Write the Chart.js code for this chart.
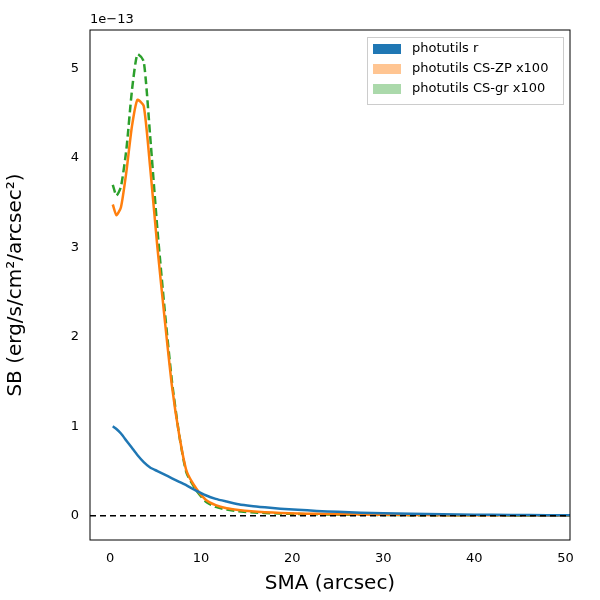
<!DOCTYPE html><html><head><script src="https://cdn.jsdelivr.net/npm/chart.js@4"></script>
<style>body{margin:0;background:#fff}</style></head><body><canvas id="c" width="600" height="600" style="width:600px;height:600px"></canvas>
<script>
const sma=[0.3,0.7,1.2,1.8,2.4,3.0,3.7,4.4,5.2,6.0,6.8,7.6,8.4,9.5,10.5,11.6,12.8,14.1,15.5,17,18.7,20.6,22.7,25,27.5,30,33,36.5,40,44,48,50.5];
const photR=[1.0,0.97,0.92,0.84,0.76,0.68,0.6,0.54,0.5,0.46,0.42,0.38,0.34,0.28,0.23,0.19,0.16,0.13,0.11,0.095,0.08,0.068,0.055,0.045,0.035,0.028,0.022,0.017,0.013,0.01,0.008,0.007];
const csZP=[3.48,3.36,3.45,3.85,4.35,4.65,4.58,3.9,3.0,2.2,1.45,0.9,0.5,0.3,0.18,0.12,0.085,0.065,0.05,0.04,0.033,0.027,0.022,0.018,0.015,0.012,0.01,0.008,0.007,0.006,0.005,0.005];
const csGR=[3.7,3.58,3.68,4.1,4.75,5.16,5.08,4.25,3.2,2.3,1.5,0.9,0.48,0.28,0.16,0.1,0.07,0.05,0.04,0.032,0.026,0.021,0.017,0.014,0.012,0.01,0.008,0.007,0.006,0.005,0.004,0.004];
const pts=a=>a.map((v,i)=>({x:sma[i],y:v}));
const extra={id:'extra',afterDraw(c){const{ctx,chartArea:a,scales:{x,y}}=c;ctx.save();
ctx.strokeStyle='#000';ctx.lineWidth=1.5;ctx.setLineDash([6,4]);const yy=y.getPixelForValue(0);ctx.beginPath();ctx.moveTo(a.left,yy);ctx.lineTo(a.right,yy);ctx.stroke();
ctx.setLineDash([]);ctx.lineWidth=1;ctx.strokeRect(a.left,a.top,a.right-a.left,a.bottom-a.top);
ctx.fillStyle='#000';ctx.font='13px "DejaVu Sans"';ctx.textAlign='left';ctx.textBaseline='bottom';ctx.fillText('1e\u221213',a.left,a.top-4);
// legend
const lx=367,ly=37,lw=196,lh=67;ctx.fillStyle='rgba(255,255,255,0.8)';ctx.fillRect(lx,ly,lw,lh);ctx.strokeStyle='#ccc';ctx.strokeRect(lx+0.5,ly+0.5,lw,lh);
c.data.datasets.forEach((d,i)=>{const ry=ly+12+i*20;ctx.fillStyle=d.backgroundColor;ctx.fillRect(lx+6,ry-5,28,10);ctx.fillStyle='#000';ctx.textBaseline='middle';ctx.fillText(d.label,lx+45,ry);});
ctx.restore();}};
new Chart(document.getElementById('c'),{type:'line',data:{datasets:[
{label:'photutils r',data:pts(photR),borderColor:'#1f77b4',backgroundColor:'#1f77b4',borderWidth:2.5,pointRadius:0,tension:0.2},
{label:'photutils CS-ZP x100',data:pts(csZP),borderColor:'#ff7f0e',backgroundColor:'rgba(255,127,14,0.45)',borderWidth:2.5,pointRadius:0,tension:0.2},
{label:'photutils CS-gr x100',data:pts(csGR),borderColor:'#2ca02c',backgroundColor:'rgba(44,160,44,0.4)',borderWidth:2.5,borderDash:[8,4],pointRadius:0,tension:0.2}]},
options:{animation:false,responsive:false,devicePixelRatio:1,layout:{padding:{top:30,right:30,left:0,bottom:0}},
plugins:{legend:{display:false},tooltip:{enabled:false}},
scales:{x:{type:'linear',min:-2.2,max:50.5,afterFit:s=>{s.height=60},grid:{display:false},border:{display:false},ticks:{color:'#000',font:{family:'DejaVu Sans',size:13}},afterBuildTicks:s=>{s.ticks=[0,10,20,30,40,50].map(v=>({value:v}))},title:{display:true,text:'SMA (arcsec)',color:'#000',font:{family:'DejaVu Sans',size:20}}},
y:{min:-0.27,max:5.43,afterFit:s=>{s.width=90},grid:{display:false},border:{display:false},ticks:{color:'#000',font:{family:'DejaVu Sans',size:13}},afterBuildTicks:s=>{s.ticks=[0,1,2,3,4,5].map(v=>({value:v}))},title:{display:true,text:'SB (erg/s/cm\u00b2/arcsec\u00b2)',color:'#000',font:{family:'DejaVu Sans',size:20}}}}},
plugins:[extra]});
</script></body></html>
